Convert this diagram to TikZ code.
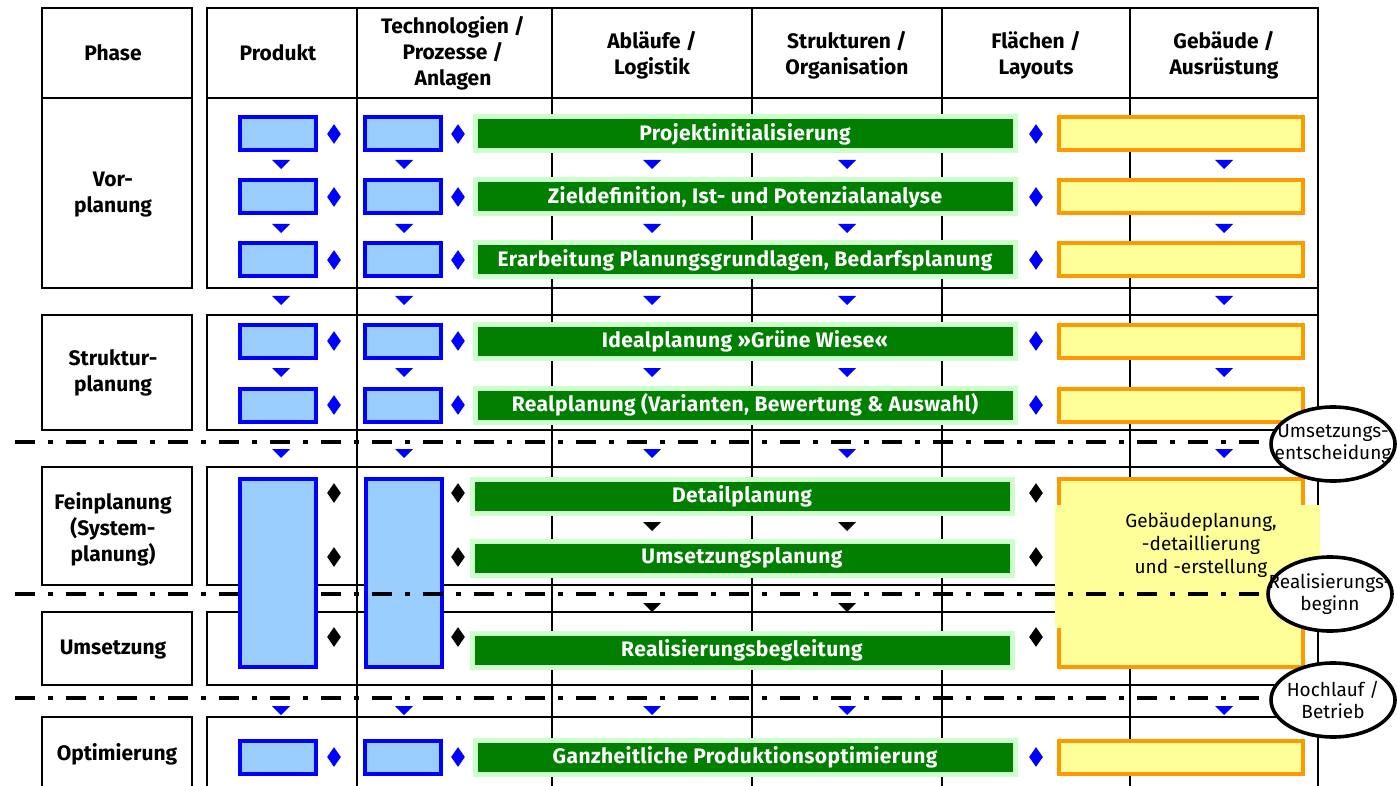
\documentclass[tikz,border=0pt]{standalone}
\usepackage{fontspec}
\setmainfont{Fira Sans}
\usetikzlibrary{shapes.geometric}
\definecolor{boxblue}{HTML}{99CCFF}
\definecolor{lineblue}{HTML}{0000FF}
\definecolor{bargreen}{HTML}{007F00}
\definecolor{glowgreen}{HTML}{CCFFCC}
\definecolor{boxyellow}{HTML}{FFFF99}
\definecolor{lineorange}{HTML}{FF9900}
\tikzset{gline/.style={draw=black,line width=0.7pt},
	 head/.style={align=center,font=\bfseries\fontsize{10.5}{13}\selectfont},
	 pbox/.style={rectangle,draw=lineblue,fill=boxblue,line width=2pt,minimum width=38pt,minimum height=16.5pt,inner sep=0pt},
	 gbar/.style={rectangle,draw=glowgreen,fill=bargreen,line width=2.5pt,minimum width=270pt,minimum height=17pt,inner sep=0pt,text=white,font=\bfseries\fontsize{10.5}{12}\selectfont\addfontfeature{LetterSpace=2}},
	 ybox/.style={rectangle,draw=lineorange,fill=boxyellow,line width=2pt,minimum width=122pt,minimum height=16.5pt,inner sep=0pt},
	 bdia/.style={diamond,fill=lineblue,inner sep=0pt,minimum width=7pt,minimum height=10pt},
	 kdia/.style={diamond,fill=black,inner sep=0pt,minimum width=7pt,minimum height=10pt},
	 milestone/.style={line width=2pt,dash pattern=on 10pt off 6.5pt on 2.5pt off 6.5pt},
	 gate/.style={ellipse,draw,line width=1.8pt,fill=white,minimum width=62pt,minimum height=37pt,inner sep=0pt},
	 gatetext/.style={align=center,inner sep=0pt,font=\fontsize{9.5}{11}\selectfont}
	 }
\begin{document}
\begin{tikzpicture}[x=0.5pt,y=-0.5pt] % phases of factory planning
	\useasboundingbox (0,0) rectangle (1397,786);
	\fill[white] (0,0) rectangle (1397,786);
	% table
	\foreach \ya/\yb in {8/288,315/430,467/585,612/685,717/792}
		\draw[gline] (207,\ya) rectangle (1318,\yb);
	\foreach \x in {357,552,752,942,1130,1318}
		\draw[gline] (\x,8) -- (\x,792);
	\draw[gline] (207,98) -- (1318,98);
	\draw[gline] (42,8) rectangle (192,288);
	\draw[gline] (42,98) -- (192,98);
	\foreach \ya/\yb in {315/430,467/585,612/685,717/792}
		\draw[gline] (42,\ya) rectangle (192,\yb);
	% head row
	\node[head] (hph) at (113,53) {Phase};
	\node[head] (hpr) at (278,53) {Produkt};
	\node[head] (hte) at (453,53) {Technologien /\\Prozesse /\\Anlagen};
	\node[head] (hab) at (652,55) {Abläufe /\\Logistik};
	\node[head] (hst) at (847,55) {Strukturen /\\Organisation};
	\node[head] (hfl) at (1036,55) {Flächen /\\Layouts};
	\node[head] (hge) at (1224,55) {Gebäude /\\Ausrüstung};
	\node[head] (ph1) at (113,195) {Vor-\\planung};
	\node[head] (ph2) at (113,373) {Struktur-\\planung};
	\node[head] (ph3) at (113,529) {Feinplanung\\(System-\\planung)};
	\node[head] (ph4) at (113,650) {Umsetzung};
	\node[head] (ph5) at (117,754) {Optimierung};
	% steps
	\foreach \y [count=\i] in {134,197,260,341,405,757} {
		\node[pbox] (p\i) at (278,\y) {};
		\node[bdia] (pd\i) at (334,\y) {};
		\node[pbox] (t\i) at (403,\y) {};
		\node[bdia] (td\i) at (458,\y) {};
		\node[bdia] (fd\i) at (1036,\y) {};
		\node[ybox] (y\i) at (1181,\y) {};
	}
	\node[gbar] (g1) at (745,134) {Projektinitialisierung};
	\node[gbar] (g2) at (745,197) {Zieldefinition, Ist- und Potenzialanalyse};
	\node[gbar] (g3) at (745,260) {Erarbeitung Planungsgrundlagen, Bedarfsplanung};
	\node[gbar] (g4) at (745,341) {Idealplanung »Grüne Wiese«};
	\node[gbar] (g5) at (745,405) {Realplanung (Varianten, Bewertung \& Auswahl)};
	\node[gbar] (g9) at (745,757) {Ganzheitliche Produktionsoptimierung};
	\node[pbox,minimum height=94pt] (tf) at (403.5,572.5) {};
	\foreach \y [count=\i] in {493,557,637} {
		\node[kdia] (pk\i) at (334,\y) {};
		\node[kdia] (tk\i) at (458,\y) {};
		\node[kdia] (fk\i) at (1036,\y) {};
	}
	\node[gbar] (g6) at (742,496) {Detailplanung};
	\node[gbar] (g7) at (742,558) {Umsetzungsplanung};
	\node[gbar] (g8) at (742,650) {Realisierungsbegleitung};
	\node[ybox,minimum height=94pt] (yf) at (1181,572.5) {};
	\fill[boxyellow] (1055,505) rectangle (1320,628);
	\node[align=center,font=\fontsize{9.5}{11.5}\selectfont] (yt) at (1201,545) {Gebäudeplanung,\\-detaillierung\\und -erstellung};
	% arrows
	\foreach \y in {164,228,300,372,453,710}
		\foreach \x in {281,404,652,847,1224}
			\fill[lineblue] (\x-9,\y-4) -- (\x+9,\y-4) -- (\x,\y+5) -- cycle;
	\foreach \y in {526,607}
		\foreach \x in {652,847}
			\fill (\x-9,\y-4) -- (\x+9,\y-4) -- (\x,\y+5) -- cycle;
	% milestones
	\coordinate (s1) at (15,442);
	\coordinate (s2) at (15,594);
	\coordinate (s3) at (15,698);
	\draw[milestone] (s1) -- (1290,442);
	\draw[milestone] (s2) -- (1290,594);
	\draw[milestone] (s3) -- (1290,698);
	\node[gate] (m1) at (1333,444) {};
	\node[gate] (m2) at (1330,594) {};
	\node[gate] (m3) at (1333,700) {};
	\node[gatetext] (l1) at (m1) {Umsetzungs-\\entscheidung};
	\node[gatetext] (l2) at (m2) {Realisierungs-\\beginn};
	\node[gatetext] (l3) at (m3) {Hochlauf /\\Betrieb};
	\node[pbox,minimum height=94pt] (pf) at (278,572.5) {};
\end{tikzpicture}
\end{document}
